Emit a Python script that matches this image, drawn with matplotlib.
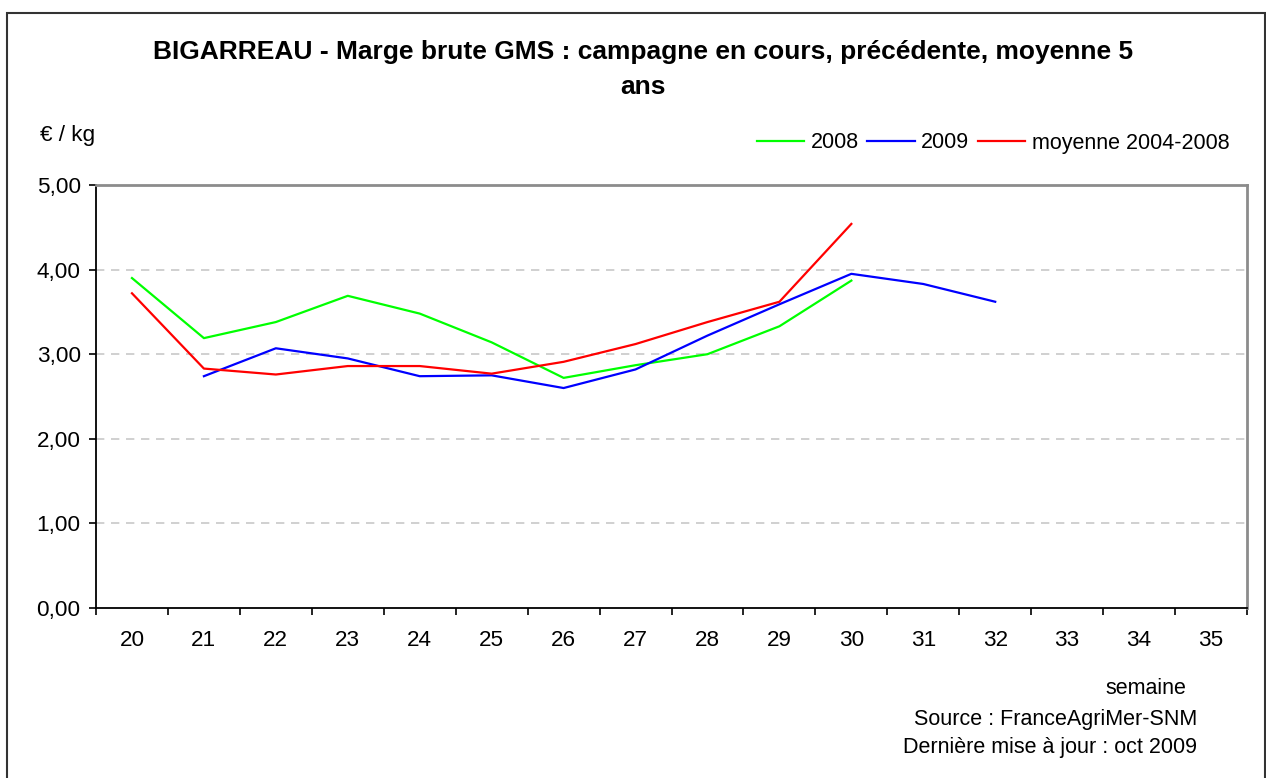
import matplotlib
matplotlib.use("Agg")
import matplotlib.pyplot as plt
import numpy as np
from matplotlib.ticker import FuncFormatter, FixedLocator
from matplotlib.patches import Rectangle

plt.rcParams['font.family'] = ['Liberation Sans', 'DejaVu Sans']

weeks = [20, 21, 22, 23, 24, 25, 26, 27, 28, 29, 30, 31, 32, 33, 34, 35]
val_2008 = [3.90, 3.19, 3.38, 3.69, 3.48, 3.14, 2.72, 2.87, 3.00, 3.33, 3.87]
val_2009 = [None, 2.74, 3.07, 2.95, 2.74, 2.75, 2.60, 2.82, 3.22, 3.59, 3.95, 3.83, 3.62]
val_moy = [3.72, 2.83, 2.76, 2.86, 2.86, 2.77, 2.91, 3.12, 3.38, 3.62, 4.54]


def to_arr(vals):
    return np.array([np.nan if v is None else v for v in vals], dtype=float)


fig = plt.figure(figsize=(12.66, 7.78), dpi=100)
ax = fig.add_axes([96 / 1266, 1 - 608 / 778, (1247 - 96) / 1266, (608 - 185) / 778])

# outer frame of the chart
fig.patches.append(Rectangle((7 / 1266, -0.05), (1265 - 7) / 1266, 1 - 13 / 778 + 0.05,
                             transform=fig.transFigure, fill=False,
                             edgecolor='#333333', linewidth=1.5))

ax.plot(np.arange(len(val_2008)), to_arr(val_2008), color='#00ff00', lw=1.6, label='2008')
ax.plot(np.arange(len(val_2009)), to_arr(val_2009), color='#0000ff', lw=1.6, label='2009')
ax.plot(np.arange(len(val_moy)), to_arr(val_moy), color='#ff0000', lw=1.6, label='moyenne 2004-2008')

ax.set_xlim(-0.5, len(weeks) - 0.5)
ax.set_ylim(0, 5)
ax.set_yticks([0, 1, 2, 3, 4, 5])
ax.yaxis.set_major_formatter(FuncFormatter(lambda v, p: f"{v:.2f}".replace('.', ',')))
ax.set_xticks(np.arange(len(weeks)))
ax.set_xticklabels([str(w) for w in weeks])
ax.xaxis.set_minor_locator(FixedLocator(np.arange(len(weeks) + 1) - 0.5))
ax.tick_params(axis='x', which='major', length=0, pad=16, labelsize=16.2)
ax.tick_params(axis='x', which='minor', length=5, width=1.2, direction='out')
ax.tick_params(axis='y', length=5, width=1.2, pad=6, labelsize=16.2)

for y in [1, 2, 3, 4]:
    ax.axhline(y, color='#c8c8c8', lw=1.2, ls=(0, (5, 4)), zorder=0)

ax.spines['left'].set_color('black')
ax.spines['bottom'].set_color('black')
ax.spines['left'].set_linewidth(1.3)
ax.spines['bottom'].set_linewidth(1.3)
ax.spines['top'].set_color('#8c8c8c')
ax.spines['right'].set_color('#8c8c8c')
ax.spines['top'].set_linewidth(2)
ax.spines['right'].set_linewidth(2)

fig.text(643 / 1266, 1 - 52 / 778,
         "BIGARREAU - Marge brute GMS : campagne en cours, précédente, moyenne 5",
         ha='center', va='center', fontsize=19, fontweight='bold')
fig.text(643 / 1266, 1 - 87 / 778, "ans", ha='center', va='center',
         fontsize=19, fontweight='bold')
fig.text(40 / 1266, 1 - 136 / 778, "€ / kg", ha='left', va='center', fontsize=16.2)

ax.legend(loc='center right', bbox_to_anchor=(1240 / 1266, 1 - 143 / 778),
          bbox_transform=fig.transFigure, ncol=3, frameon=False, fontsize=15.5,
          handlelength=2.2, handletextpad=0.3, columnspacing=0.4, borderpad=0)

fig.text(1186 / 1266, 1 - 688 / 778, "semaine", ha='right', va='center', fontsize=15.5)
fig.text(1197 / 1266, 1 - 719 / 778, "Source : FranceAgriMer-SNM", ha='right', va='center', fontsize=15.5)
fig.text(1197 / 1266, 1 - 748 / 778, "Dernière mise à jour : oct 2009", ha='right', va='center', fontsize=15.5)

fig.savefig("out.png", dpi=100)
